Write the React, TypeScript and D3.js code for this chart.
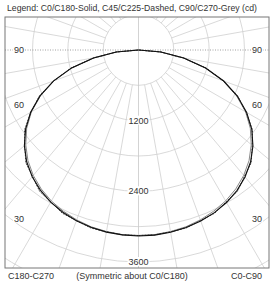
import React from "react";
import * as d3 from "d3";

const W = 273;
const H = 281;

// gamma angles (deg from nadir)
const gammas = [0, 5, 10, 15, 20, 25, 30, 35, 40, 45, 50, 55, 60, 65, 70, 75, 80, 85, 90];
// intensities (cd)
const c0 = [3158, 3155, 3143, 3122, 3091, 3048, 2990, 2914, 2815, 2691, 2537, 2348, 2121, 1852, 1540, 1180, 780, 380, 0];
const c180 = [3158, 3152, 3140, 3118, 3085, 3040, 2982, 2905, 2808, 2685, 2530, 2340, 2115, 1845, 1534, 1175, 775, 376, 0];
const c45 = [3150, 3150, 3135, 3128, 3082, 3058, 2978, 2928, 2800, 2705, 2522, 2360, 2108, 1860, 1530, 1188, 772, 382, 0];
const c90 = [3150, 3147, 3130, 3108, 3070, 3020, 2960, 2880, 2780, 2655, 2500, 2318, 2100, 1835, 1526, 1172, 774, 376, 0];

const ringValues = [600, 1200, 1800, 2400, 3000, 3600, 4200, 4800];
const ringLabels = [1200, 2400, 3600];
const angleLabels = [90, 60, 30];
const legendText = "Legend: C0/C180-Solid, C45/C225-Dashed, C90/C270-Grey (cd)";
const bottomLeft = "C180-C270";
const bottomMid = "(Symmetric about C0/C180)";
const bottomRight = "C0-C90";

const x0 = 5, x1 = 269, y0 = 17, y1 = 268;
const cx = 138.5;
const cy = 50;
const rScale = d3.scaleLinear().domain([0, 3600]).range([0, 212]);
const FONT = "Liberation Sans, Arial, sans-serif";

function pt(gDeg: number, I: number, side: number): [number, number] {
  const a = (gDeg * Math.PI) / 180;
  const r = rScale(I);
  return [cx + side * r * Math.sin(a), cy + r * Math.cos(a)];
}

function curvePath(vals: number[], side: number) {
  const line = d3.line<[number, number]>().x((d) => d[0]).y((d) => d[1]);
  return line(gammas.map((g, i) => pt(g, vals[i], side))) || "";
}

export default function App() {
  const rays: number[] = d3.range(0, 360, 10).filter((a) => a % 90 !== 0);
  const rIn = rScale(600);
  const rOut = 400;
  const tc = "#333";
  const labelXs = [x0 + 14, x1 - 12];
  return (
    <svg width={W} height={H} style={{ position: "absolute", left: 0, top: 0, background: "#fff" }}>
      <defs>
        <clipPath id="frameClip">
          <rect x={x0} y={y0} width={x1 - x0} height={y1 - y0} />
        </clipPath>
      </defs>
      <rect width={W} height={H} fill="#fff" />
      <text x={7} y={11} fontFamily={FONT} fontSize={9} fill={tc} textLength={250} lengthAdjust="spacingAndGlyphs">
        {legendText}
      </text>
      <g clipPath="url(#frameClip)">
        {ringValues.map((v) => (
          <circle key={v} cx={cx} cy={cy} r={rScale(v)} fill="none" stroke="#cfcfcf" strokeWidth={0.8} />
        ))}
        {rays.map((a) => {
          const ar = (a * Math.PI) / 180;
          return (
            <line
              key={a}
              x1={cx + rIn * Math.sin(ar)}
              y1={cy + rIn * Math.cos(ar)}
              x2={cx + rOut * Math.sin(ar)}
              y2={cy + rOut * Math.cos(ar)}
              stroke="#cfcfcf"
              strokeWidth={0.8}
            />
          );
        })}
        <line x1={cx} y1={y0} x2={cx} y2={y1} stroke="#c8c8c8" strokeWidth={0.8} />
        <line x1={x0} y1={cy} x2={x1} y2={cy} stroke="#888" strokeWidth={0.8} strokeDasharray="1,1.5" />
        {/* curves */}
        <path d={curvePath(c90, 1)} fill="none" stroke="#8a8a8a" strokeWidth={1} />
        <path d={curvePath(c90, -1)} fill="none" stroke="#8a8a8a" strokeWidth={1} />
        <path d={curvePath(c45, 1)} fill="none" stroke="#333" strokeWidth={1} strokeDasharray="2,1" />
        <path d={curvePath(c45, -1)} fill="none" stroke="#333" strokeWidth={1} strokeDasharray="2,1" />
        <path d={curvePath(c0, 1)} fill="none" stroke="#111" strokeWidth={1.1} />
        <path d={curvePath(c180, -1)} fill="none" stroke="#111" strokeWidth={1.1} />
        {ringLabels.map((v) => {
          const y = cy + rScale(v);
          return (
            <g key={v}>
              <rect x={cx - 11} y={y - 5} width={22} height={9} fill="#fff" />
              <text x={cx} y={y + 3} textAnchor="middle" fontFamily={FONT} fontSize={9} fill={tc}>
                {v}
              </text>
            </g>
          );
        })}
        {angleLabels.map((g) => {
          const dx = 118;
          const y = g === 90 ? cy : cy + dx / Math.tan(((g + 5) * Math.PI) / 180);
          return (
            <g key={g}>
              {labelXs.map((x) => (
                <g key={x}>
                  <rect x={x - 6} y={y - 5} width={12} height={9} fill="#fff" />
                  <text x={x} y={y + 3} textAnchor="middle" fontFamily={FONT} fontSize={9} fill={tc}>
                    {g}
                  </text>
                </g>
              ))}
            </g>
          );
        })}
      </g>
      <rect x={x0} y={y0} width={x1 - x0} height={y1 - y0} fill="none" stroke="#777" strokeWidth={1} />
      <text x={8} y={279} fontFamily={FONT} fontSize={9} fill={tc}>{bottomLeft}</text>
      <text x={132} y={279} textAnchor="middle" fontFamily={FONT} fontSize={9} fill={tc}>{bottomMid}</text>
      <text x={262} y={279} textAnchor="end" fontFamily={FONT} fontSize={9} fill={tc}>{bottomRight}</text>
    </svg>
  );
}
